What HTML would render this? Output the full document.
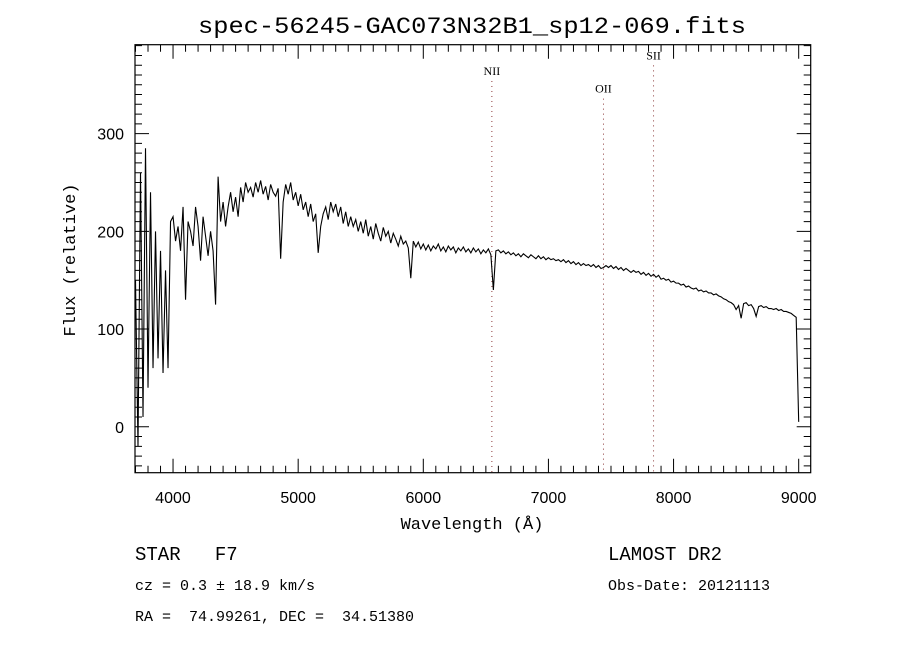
<!DOCTYPE html>
<html><head><meta charset="utf-8"><style>
body{margin:0;background:#fff;}
svg text{fill:#000;}
</style></head><body>
<svg id="chart" width="900" height="650" xmlns="http://www.w3.org/2000/svg" style="font-family:'Liberation Sans',sans-serif">
<rect width="900" height="650" fill="#fff"/>
<text x="472" y="33" text-anchor="middle" font-family="Liberation Mono, monospace" font-size="23" textLength="548" lengthAdjust="spacingAndGlyphs">spec-56245-GAC073N32B1_sp12-069.fits</text>
<g id="axes"></g>
<g id="lines"></g>
<path id="spec" fill="none" stroke="#000" stroke-width="1.1"/>
<text x="472" y="529" text-anchor="middle" font-family="Liberation Mono, monospace" font-size="17">Wavelength (Å)</text>
<text transform="translate(75,260) rotate(-90)" text-anchor="middle" font-family="Liberation Mono, monospace" font-size="17">Flux (relative)</text>
<text x="135" y="560" font-family="Liberation Mono, monospace" font-size="19" xml:space="preserve">STAR   F7</text>
<text x="135" y="590" font-family="Liberation Mono, monospace" font-size="15">cz = 0.3 ± 18.9 km/s</text>
<text x="135" y="621" font-family="Liberation Mono, monospace" font-size="15" xml:space="preserve">RA =  74.99261, DEC =  34.51380</text>
<text x="608" y="560" font-family="Liberation Mono, monospace" font-size="19">LAMOST DR2</text>
<text x="608" y="590" font-family="Liberation Mono, monospace" font-size="15">Obs-Date: 20121113</text>
</svg>
<script>
const wlStart = 3700;
const wlStep = 20;
const flux = [
150,-20,260,10,285,40,240,60,200,70,180,55,160,60,210,
215,190,205,180,225,130,210,200,185,225,205,170,215,195,175,200,180,125,256,210,230,
205,225,240,220,235,215,245,230,250,240,
245,235,250,240,252,238,246,232,248,240,236,244,172,
230,248,238,250,232,240,226,238,222,230,215,228,210,218,
178,205,218,225,212,230,220,228,215,225,208,220,205,
215,205,212,200,210,198,212,195,205,192,208,198,190,204,195,
200,188,198,192,185,195,187,190,183,
152,190,184,189,182,187,181,186,180,185,182,187,180,184,179,185,181,184,178,183,180,184,179,182,178,183,179,182,177,181,178,182,176,140,180,181,
178,180,177,179,176,178,175,177,174,177,175,173,176,174,172,175,172,174,171,173,
171,172,170,171,169,171,168,170,167,169,166,168,165,167,165,166,164,166,163,165,162,163,
165,163,165,162,164,161,163,160,162,160,158,160,158,159,156,158,155,157,154,156,
153,155,151,152,150,151,148,149,147,147,145,146,143,
144,142,141,142,139,140,138,139,137,137,135,136,134,133,131,130,128,127,125,120,124,111,126,127,124,125,121,113,123,124,122,123,121,121,120,121,119,120,118,118,117,116,114,112,5
];
const xTicks = [4000,5000,6000,7000,8000,9000];
const yTicks = [0,100,200,300];
const lineNames = ["NII","OII","SII"];
const lineWaves = [6548,7440,7840];
const lineLabelFlux = [360,342,376];

const X0=135,X1=810.7,Y0=44.7,Y1=472.7;
const xMin=3696,xMax=9096,yMin=-47,yMax=391;
function sx(w){return X0+(w-xMin)/(xMax-xMin)*(X1-X0);}
function sy(f){return Y1-(f-yMin)/(yMax-yMin)*(Y1-Y0);}
const NS="http://www.w3.org/2000/svg";
const axes=document.getElementById('axes');
function mk(tag,attrs,parent){const e=document.createElementNS(NS,tag);for(const k in attrs)e.setAttribute(k,attrs[k]);parent.appendChild(e);return e;}
const frame=mk('rect',{x:X0,y:Y0,width:X1-X0,height:Y1-Y0,fill:'none',stroke:'#000','stroke-width':1.2},axes);


let d='';
for(let w=3700;w<=9096;w+=100){const x=sx(w);const major=(w%1000===0);const L=major?14:7;
 d+=`M${x},${Y1}v${-L}M${x},${Y0}v${L}`;}
for(let f=-40;f<=390;f+=10){const y=sy(f);const major=(f%100===0);const L=major?14:7;
 d+=`M${X0},${y}h${L}M${X1},${y}h${-L}`;}
const tk=mk('path',{d:d,stroke:'#000','stroke-width':1,fill:'none'},axes);


xTicks.forEach(w=>{const t=mk('text',{x:sx(w),y:503,'text-anchor':'middle','font-size':16},axes);t.textContent=w;
 
 });
yTicks.forEach(f=>{const t=mk('text',{x:124,y:sy(f)+6,'text-anchor':'end','font-size':16},axes);t.textContent=f;
 
 });
const lg=document.getElementById('lines');
lineWaves.forEach((w,i)=>{const x=sx(w);
 const l=mk('line',{x1:x,x2:x,y1:sy(lineLabelFlux[i])+6,y2:Y1,stroke:'#8b3a3a','stroke-width':1,'stroke-dasharray':'1,4'},lg);
 
 
 const t=mk('text',{x:x,y:sy(lineLabelFlux[i]),'text-anchor':'middle','font-size':12,'font-family':'Liberation Serif, serif'},lg);
 t.textContent=lineNames[i];
 
 });
let p='';
flux.forEach((f,i)=>{const w=wlStart+wlStep*i;p+=(i?'L':'M')+sx(w).toFixed(2)+','+sy(f).toFixed(2);});
document.getElementById('spec').setAttribute('d',p);
</script>
</body></html>
